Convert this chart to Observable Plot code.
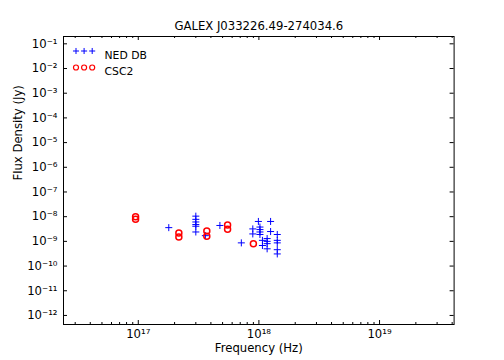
<!DOCTYPE html>
<html>
<head>
<meta charset="utf-8">
<script src="https://cdn.jsdelivr.net/npm/d3@7"></script>
<script src="https://cdn.jsdelivr.net/npm/@observablehq/plot@0.6"></script>
<style>
  html, body { margin: 0; padding: 0; background: #fff; }
  #chart { width: 504px; height: 360px; }
</style>
</head>
<body>
<div id="chart"></div>
<script>
// ---- Data ----
const title = "GALEX J033226.49-274034.6";
const xLabel = "Frequency (Hz)";
const yLabel = "Flux Density (Jy)";
const seriesNames = ["NED DB", "CSC2"];

// NED DB (blue pluses)
const nedFreq = [1.79e17,
  3.0e17, 3.0e17, 3.0e17, 3.0e17, 3.0e17, 3.0e17,
  3.6e17, 4.75e17, 7.15e17,
  8.9e17, 8.9e17,
  9.9e17,
  1.02e18, 1.02e18, 1.02e18, 1.02e18,
  1.07e18, 1.07e18,
  1.17e18, 1.17e18, 1.17e18, 1.17e18,
  1.25e18, 1.25e18,
  1.42e18, 1.42e18, 1.42e18, 1.42e18, 1.42e18];
const nedFlux = [3.6e-9,
  1.05e-8, 7.8e-9, 6.1e-9, 4.8e-9, 4.1e-9, 2.4e-9,
  1.7e-9, 4.4e-9, 8.7e-10,
  3.2e-9, 2.0e-9,
  6.4e-9,
  3.8e-9, 3.0e-9, 2.4e-9, 1.9e-9,
  1.1e-9, 6.8e-10,
  1.3e-9, 1.0e-9, 8.1e-10, 5.0e-10,
  6.4e-9, 2.5e-9,
  1.9e-9, 1.1e-9, 8.7e-10, 4.6e-10, 3.1e-10];

// CSC2 (red open circles)
const cscFreq = [9.5e16, 9.5e16, 2.17e17, 2.17e17, 3.7e17, 3.7e17, 5.5e17, 5.5e17, 9.0e17];
const cscFlux = [1.0e-8, 7.8e-9, 2.2e-9, 1.5e-9, 2.6e-9, 1.6e-9, 4.6e-9, 3.1e-9, 8.0e-10];

// Axis ticks
const xMajor = [1e17, 1e18, 1e19];
const yMajor = [1e-12, 1e-11, 1e-10, 1e-9, 1e-8, 1e-7, 1e-6, 1e-5, 1e-4, 1e-3, 1e-2, 1e-1];
const xDomain = [2.4e16, 4.15e19];
const yDomain = [4.3e-13, 0.198];

// ---- Build ----
const W = 504, H = 360;
const mL = 63, mR = 50.4, mT = 36, mB = 36;
const plotH = H - mT - mB, plotW = W - mL - mR;

const xMinor = [];
for (let e = 16; e <= 19; e++) for (let k = 2; k <= 9; k++) {
  const v = k * Math.pow(10, e);
  if (v > xDomain[0] && v < xDomain[1]) xMinor.push(v);
}

const supMap = {"0":"⁰","1":"¹","2":"²","3":"³","4":"⁴","5":"⁵","6":"⁶","7":"⁷","8":"⁸","9":"⁹","-":"⁻"};
const fmt = d => "10" + String(Math.round(Math.log10(d))).split("").map(c => supMap[c]).join("");

const ned = nedFreq.map((f, i) => ({f, v: nedFlux[i]}));
const csc = cscFreq.map((f, i) => ({f, v: cscFlux[i]}));

const font = 11.67;
const tickStroke = "#000";
const plusR = 2.4, plusW = 1.0;
const circR = 3.0, circW = 1.5;

const legendMarks = [];
[0, 1, 2].forEach(i => {
  legendMarks.push(Plot.dot([seriesNames[0]], {frameAnchor: "top-left", dx: 12.5 + 8.1 * i, dy: 14.5,
    symbol: "plus", r: plusR - 0.3, stroke: "blue", strokeWidth: plusW}));
  legendMarks.push(Plot.dot([seriesNames[1]], {frameAnchor: "top-left", dx: 12.5 + 8.1 * i, dy: 31,
    symbol: "circle", r: circR - 0.5, stroke: "red", fill: "none", strokeWidth: circW - 0.3}));
});
legendMarks.push(Plot.text([seriesNames[0]], {frameAnchor: "top-left", dx: 41, dy: 14.5, text: d => d,
  textAnchor: "start", fontSize: 10.8, fill: "#000"}));
legendMarks.push(Plot.text([seriesNames[1]], {frameAnchor: "top-left", dx: 41, dy: 31, text: d => d,
  textAnchor: "start", fontSize: 10.8, fill: "#000"}));

const chart = Plot.plot({
  width: W, height: H,
  marginLeft: mL, marginRight: mR, marginTop: mT, marginBottom: mB,
  style: {fontFamily: "DejaVu Sans", fontSize: font + "px", background: "#fff", color: "#000"},
  x: {type: "log", domain: xDomain},
  y: {type: "log", domain: yDomain},
  marks: [
    // data
    Plot.dot(ned, {x: "f", y: "v", symbol: "plus", r: plusR, stroke: "blue", strokeWidth: plusW}),
    Plot.dot(csc, {x: "f", y: "v", symbol: "circle", r: circR, stroke: "red", fill: "none", strokeWidth: circW}),
    // inward ticks, x (bottom & top)
    Plot.ruleX(xMajor, {x: d => d, insetTop: plotH - 4, stroke: tickStroke}),
    Plot.ruleX(xMajor, {x: d => d, insetBottom: plotH - 4, stroke: tickStroke}),
    Plot.ruleX(xMinor, {x: d => d, insetTop: plotH - 2, stroke: tickStroke}),
    Plot.ruleX(xMinor, {x: d => d, insetBottom: plotH - 2, stroke: tickStroke}),
    // inward ticks, y (left & right)
    Plot.ruleY(yMajor, {y: d => d, insetRight: plotW - 4, stroke: tickStroke}),
    Plot.ruleY(yMajor, {y: d => d, insetLeft: plotW - 4, stroke: tickStroke}),
    // tick labels
    Plot.axisX({ticks: xMajor, tickFormat: fmt, tickSize: 0, tickPadding: 5, label: null, fontSize: font}),
    Plot.axisY({ticks: yMajor, tickFormat: fmt, tickSize: 0, tickPadding: 6, label: null, fontSize: font}),
    Plot.frame({stroke: "#000"}),
    // legend
    ...legendMarks,
    // title & axis labels
    Plot.text([title], {frameAnchor: "top", dy: -7, lineAnchor: "bottom", text: d => d, fontSize: font, fill: "#000"}),
    Plot.text([xLabel], {frameAnchor: "bottom", dy: 27, text: d => d, fontSize: font, fill: "#000"}),
    Plot.text([yLabel], {frameAnchor: "left", dx: -45, rotate: -90, text: d => d, fontSize: font, fill: "#000"})
  ]
});
document.getElementById("chart").appendChild(chart);
</script>
</body>
</html>
